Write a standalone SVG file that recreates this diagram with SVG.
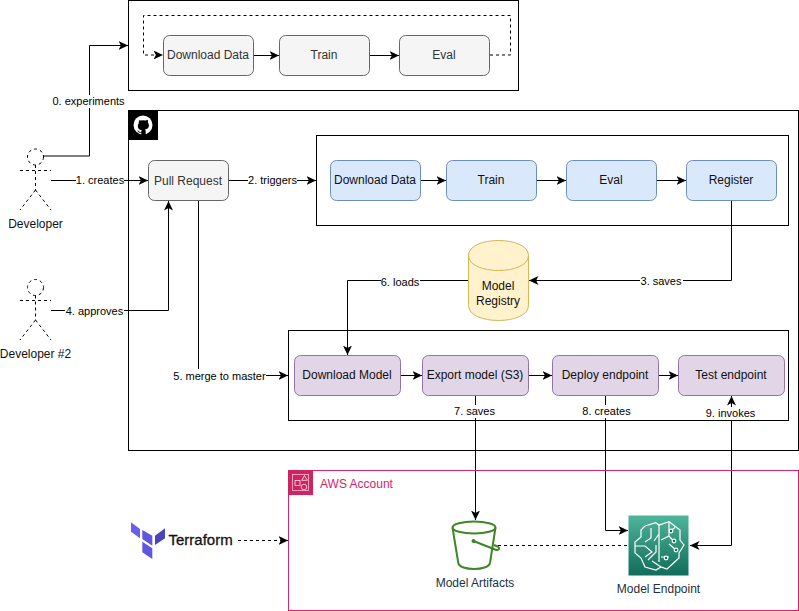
<svg xmlns="http://www.w3.org/2000/svg" width="799" height="611" viewBox="0 0 799 611">
<defs>
<marker id="arr" viewBox="0 0 10 10" refX="9.5" refY="5" markerWidth="10" markerHeight="10" markerUnits="userSpaceOnUse" orient="auto"><path d="M0 0.500L9.500 5L0 9.500L2.400 5Z" fill="#000"/></marker>
<linearGradient id="sm" x1="0" y1="0" x2="0" y2="1"><stop offset="0" stop-color="#4DB59A"/><stop offset="1" stop-color="#116D5B"/></linearGradient>
</defs>
<style>
text{font-family:"Liberation Sans",Arial,sans-serif;font-size:12px;fill:#333;text-anchor:middle}
.f{fill:none;stroke:#000;stroke-width:1}
.n{stroke-width:1}
.g{fill:#f5f5f5;stroke:#666}
.b{fill:#dae8fc;stroke:#6c8ebf}
.p{fill:#e1d5e7;stroke:#9673a6}
.c{fill:none;stroke:#000;stroke-width:1;marker-end:url(#arr)}
.d{stroke-dasharray:3 3}
.l{font-size:11px;fill:#000}
.lb{fill:#fff}
.a{fill:none;stroke:#000;stroke-dasharray:3 3}
.k{fill:#111}
.s{fill:#232F3E}
</style>
<rect width="799" height="611" fill="#fff"/>
<g id="frames">
<rect class="f" x="128.500" y="0.500" width="390" height="90"/>
<rect class="f" x="128.500" y="110.500" width="670" height="340"/>
<rect class="f" x="316.500" y="135.500" width="472" height="90"/>
<rect class="f" x="288.500" y="330.500" width="500" height="90"/>
</g>
<g id="github-badge">
<rect x="128" y="110" width="30" height="30" fill="#000"/>
<circle cx="143" cy="125" r="9.500" fill="#fff"/>
<path d="M138.300 119.800l2 .8q2.700-.8 5.400 0l2-.8q.6 1.500 .2 2.700q1 1.100 1 2.800q0 3.700-4 4.300q.8 .7.8 2v3.400h-4.400v-2.400q-2.500 .8-3.200-1q-.5-1-1.200-1.300q1.300 0 2 1q.8 1 2.300 .5q0-.9 .7-1.500q-4.100-.6-4.100-4.300q0-1.700 1-2.800q-.4-1.200 .5-2.700z" fill="#000"/>
</g>
<g id="connectors">
<path class="c" d="M43 156H89.500V45.500H128"/>
<path class="c" d="M51 180.500H148"/>
<path class="c" d="M229 180.500H316"/>
<path class="c" d="M731.500 201V280.500H529"/>
<path class="c" d="M51 310.500H168.500V201"/>
<path class="c" d="M198.500 201V375.500H288"/>
<path class="c" d="M468 280.500H347.500V355"/>
<path class="c" d="M475.500 396V520"/>
<path class="c" d="M605.500 396V530.500H628"/>
<path class="c" d="M731.500 545.500V396"/>
<path class="c" d="M731.500 545.500H690"/>
<path class="c d" d="M490 55H510.500V15.500H143.500V55H163"/>
<path class="c" d="M254 55.500H279"/>
<path class="c" d="M370 55.500H399"/>
<path class="c" d="M421 180.500H446"/>
<path class="c" d="M537 180.500H566"/>
<path class="c" d="M657 180.500H686"/>
<path class="c" d="M401 375.500H422"/>
<path class="c" d="M529 375.500H552"/>
<path class="c" d="M659 375.500H678"/>
<path class="c d" d="M238 540.500H288"/>
<path fill="none" stroke="#000" stroke-dasharray="3 3" d="M498 545.500H628"/>
</g>
<g id="connector-labels">
<rect class="lb" x="52" y="95" width="74" height="13"/><text class="l" x="88.500" y="105">0. experiments</text>
<rect class="lb" x="76" y="174" width="48" height="13"/><text class="l" x="100" y="184">1. creates</text>
<rect class="lb" x="248" y="174" width="49" height="13"/><text class="l" x="272.500" y="184">2. triggers</text>
<rect class="lb" x="640" y="275" width="43" height="12"/><text class="l" x="661" y="285">3. saves</text>
<rect class="lb" x="65" y="305" width="59" height="12"/><text class="l" x="94.500" y="315">4. approves</text>
<rect class="lb" x="173" y="369" width="93" height="13"/><text class="l" x="219.500" y="380">5. merge to master</text>
<rect class="lb" x="381" y="275" width="39" height="12"/><text class="l" x="400" y="286">6. loads</text>
<rect class="lb" x="454" y="405" width="41" height="13"/><text class="l" x="474.500" y="415">7. saves</text>
<rect class="lb" x="582" y="405" width="49" height="13"/><text class="l" x="606.500" y="415">8. creates</text>
<rect class="lb" x="705" y="407" width="50" height="13"/><text class="l" x="730.500" y="417">9. invokes</text>
</g>
<g id="dev-actor">
<circle class="a" cx="35.500" cy="157" r="8"/>
<path class="a" d="M35.500 165V190M20 170.500H51M35.500 190L20 210M35.500 190L51 210"/>
<text class="k" x="35.500" y="228">Developer</text>
</g>
<g id="dev2-actor">
<circle class="a" cx="35.500" cy="287.500" r="8"/>
<path class="a" d="M35.500 295.500V320M20 300.500H51M35.500 320L20 340M35.500 320L51 340"/>
<text class="k" x="35.500" y="358">Developer #2</text>
</g>
<g id="pull-request"><rect class="n g" x="148.500" y="160.500" width="80" height="40" rx="6"/><text x="188" y="184.500">Pull Request</text></g>
<g id="top-download"><rect class="n g" x="163.500" y="35.500" width="90" height="40" rx="6"/><text x="208" y="59">Download Data</text></g>
<g id="top-train"><rect class="n g" x="279.500" y="35.500" width="90" height="40" rx="6"/><text x="324" y="59">Train</text></g>
<g id="top-eval"><rect class="n g" x="399.500" y="35.500" width="90" height="40" rx="6"/><text x="444" y="59">Eval</text></g>
<g id="ci-download"><rect class="n b" x="330.500" y="160.500" width="90" height="40" rx="6"/><text class="k" x="375" y="184">Download Data</text></g>
<g id="ci-train"><rect class="n b" x="446.500" y="160.500" width="90" height="40" rx="6"/><text class="k" x="491" y="184">Train</text></g>
<g id="ci-eval"><rect class="n b" x="566.500" y="160.500" width="90" height="40" rx="6"/><text class="k" x="611" y="184">Eval</text></g>
<g id="ci-register"><rect class="n b" x="686.500" y="160.500" width="90" height="40" rx="6"/><text class="k" x="731" y="184">Register</text></g>
<g id="model-registry">
<path d="M468.500 255.500C468.500 235.500 528.500 235.500 528.500 255.500V305.500C528.500 325.500 468.500 325.500 468.500 305.500Z" fill="#fff2cc" stroke="#d6b656"/>
<path d="M468.500 255.500C468.500 275.500 528.500 275.500 528.500 255.500" fill="none" stroke="#d6b656"/>
<text class="k" x="498" y="290">Model</text><text class="k" x="498" y="305">Registry</text>
</g>
<g id="cd-download"><rect class="n p" x="294.500" y="355.500" width="106" height="40" rx="6"/><text class="k" x="347" y="379">Download Model</text></g>
<g id="cd-export"><rect class="n p" x="422.500" y="355.500" width="106" height="40" rx="6"/><text class="k" x="475" y="379">Export model (S3)</text></g>
<g id="cd-deploy"><rect class="n p" x="552.500" y="355.500" width="106" height="40" rx="6"/><text class="k" x="605" y="379">Deploy endpoint</text></g>
<g id="cd-test"><rect class="n p" x="678.500" y="355.500" width="106" height="40" rx="6"/><text class="k" x="731" y="379">Test endpoint</text></g>
<g id="aws-account">
<rect x="288.500" y="470.500" width="510" height="140" fill="none" stroke="#d6246e"/>
<rect x="288" y="470" width="25" height="25" fill="#cf2461"/>
<g fill="none" stroke="#fff" stroke-width=".8" opacity=".9">
<rect x="292.500" y="474.500" width="16" height="16" stroke-opacity=".8"/>
<rect x="295" y="480.500" width="5" height="5"/><path d="M304.500 475.500l2.800 4.800h-5.600z"/><circle cx="304" cy="487" r="2.800"/>
</g>
<text x="320" y="488" style="text-anchor:start;fill:#d6246e">AWS Account</text>
</g>
<g id="terraform">
<path d="M131 522.300l9 6.700v9.300l-9-6.600z" fill="#6a5fe8"/>
<path d="M142.300 530l10 5.700v10l-10-6.700z" fill="#5e55e0"/>
<path d="M155 535.700l10-7.400v10l-10 6.700z" fill="#4a44b8"/>
<path d="M142.300 541.700l10 6.600v10.700l-10-6.700z" fill="#5e55e0"/>
<text x="168.500" y="545" style="text-anchor:start;font-size:15px;fill:#111;stroke:#111;stroke-width:.3">Terraform</text>
</g>
<g id="model-artifacts">
<g fill="none" stroke="#3F8624" stroke-width="2">
<ellipse cx="474" cy="527.500" rx="21.500" ry="6"/>
<path d="M452.500 527.500L458.300 563C459.500 571 488.500 571 490 563L495.500 527.500"/>
<path d="M473.500 541L495 549.500C499.500 551 500 548 497.500 546.500L494 545"/>
</g>
<circle cx="473.500" cy="541" r="2" fill="#3F8624"/>
<text class="s" x="475" y="587">Model Artifacts</text>
</g>
<g id="model-endpoint">
<rect x="628.500" y="515.500" width="60" height="60" fill="url(#sm)"/>
<g fill="none" stroke="#fff" stroke-width="1.200">
<path d="M645 526L655.700 522.700L659 525L669 521.700L680 530V540L684 545L679 553V558L667 569L661 567L656 570L645 567L641 558L635 553V542L641 537V530Z"/>
<path d="M659 525V562M651 528V538L645 542M659 534L654 541M635 546H645L652 552L645 557M648 560L656 552V545M661 567L652 561"/>
<path d="M669 522V536M669 532L675 527.500M661 540L669 536L672 539.500M669 544L676 550M661 557H669"/>
</g>
<g fill="#116D5B" stroke="#fff" stroke-width="1.200"><circle cx="671" cy="531" r="1.800"/><circle cx="674" cy="541" r="1.800"/><circle cx="676" cy="550" r="1.800"/><circle cx="666" cy="558" r="1.800"/></g>
<text class="s" x="658.500" y="593">Model Endpoint</text>
</g>
</svg>
